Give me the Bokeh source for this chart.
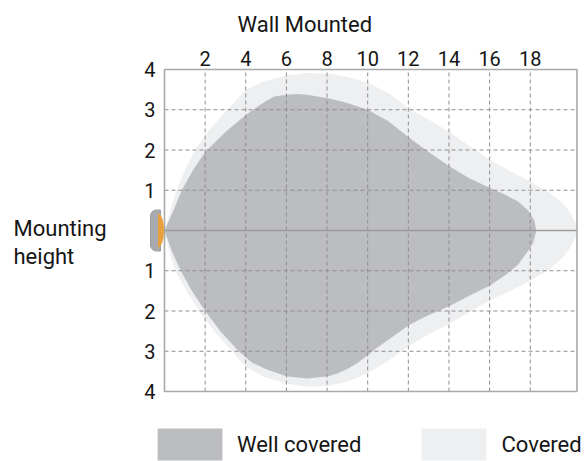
import numpy as np
from bokeh.plotting import figure
from bokeh.models import Range1d, FixedTicker, Legend, LegendItem
from bokeh.core.properties import value
from bokeh.embed import file_html
from bokeh.resources import INLINE

# ---------------- data ----------------
x_ticks = [2, 4, 6, 8, 10, 12, 14, 16, 18]
y_ticks = [-4, -3, -2, -1, 0, 1, 2, 3, 4]
y_tick_labels = ["4", "3", "2", "1", "", "1", "2", "3", "4"]
y_grid = [-3, -2, -1, 1, 2, 3]
X_MAX = 20.3          # right edge of the chart box
Y_MAX = 4             # top / bottom of the chart box

# "Covered" zone (outer, light)
outer_top_x = [0, 0.28, 0.6, 1.0, 1.5, 2.2, 3.1, 4.0, 5.0, 6.0, 7.0, 8.0, 9.0, 10.0,
               11.0, 12.0, 13.0, 14.0, 15.0, 16.0, 17.0, 18.0, 19.0, 19.6, 20.0, 20.25, 20.3]
outer_top_y = [0, 0.5, 1.0, 1.5, 2.0, 2.5, 3.0, 3.5, 3.72, 3.85, 3.91, 3.9, 3.82, 3.67,
               3.42, 3.05, 2.75, 2.46, 2.1, 1.76, 1.48, 1.22, 0.92, 0.68, 0.42, 0.15, 0]
outer_bot_x = [0, 0.22, 0.53, 1.08, 1.7, 2.45, 3.33, 4.0, 5.0, 6.0, 7.0, 8.0, 9.0, 10.0,
               11.0, 12.0, 13.0, 14.0, 15.0, 16.0, 17.0, 18.0, 19.0, 19.6, 20.0, 20.25, 20.3]
outer_bot_y = [0, -0.5, -1.0, -1.5, -2.0, -2.5, -3.0, -3.39, -3.65, -3.8, -3.88, -3.87, -3.76, -3.54,
               -3.24, -2.88, -2.58, -2.32, -2.03, -1.74, -1.5, -1.25, -0.95, -0.68, -0.4, -0.15, 0]

# "Well covered" zone (inner, dark)
inner_top_x = [0, 0.44, 0.85, 1.4, 2.0, 3.0, 4.0, 4.5, 5.0, 5.4, 6.0, 6.5, 7.0, 8.0, 9.0,
               10.0, 11.0, 12.0, 13.0, 14.0, 15.0, 16.0, 16.8, 17.4, 17.9, 18.2, 18.3]
inner_top_y = [0, 0.5, 1.0, 1.5, 1.95, 2.45, 2.87, 3.05, 3.22, 3.33, 3.37, 3.39, 3.37, 3.29, 3.17,
               3.0, 2.72, 2.32, 1.95, 1.6, 1.3, 1.06, 0.88, 0.72, 0.5, 0.25, 0]
inner_bot_x = [0, 0.35, 0.8, 1.35, 2.0, 2.75, 3.65, 4.3, 5.0, 6.0, 7.0, 8.0, 8.5, 9.0, 9.5, 10.0,
               10.5, 11.0, 12.0, 12.8, 14.0, 15.0, 16.0, 16.8, 17.4, 17.9, 18.15, 18.3]
inner_bot_y = [0, -0.5, -1.0, -1.5, -2.0, -2.5, -3.0, -3.28, -3.45, -3.62, -3.68, -3.63, -3.55, -3.44,
               -3.29, -3.1, -2.9, -2.72, -2.36, -2.15, -1.88, -1.62, -1.37, -1.1, -0.85, -0.5, -0.3, 0]

series_labels = ["Well covered", "Covered"]
colors = {"Well covered": "#bcbdc0", "Covered": "#eeeff1"}

FONT = "Roboto"
TEXT = "#151515"
GRID = "#8e8e8e"
BOX = "#a9a9a9"

# ---------------- figure ----------------
# the frame covers the whole canvas; the chart box (0..X_MAX, -4..4) sits inside it
PX_X = 20.32   # pixels per x unit
PX_Y = 40.25   # pixels per y unit
W, H = 586, 461
OX, OY = 164, 230            # canvas pixel of the box origin
x_lo, x_hi = -OX / PX_X, (W - OX) / PX_X
y_lo, y_hi = -(H - OY) / PX_Y, OY / PX_Y

p = figure(width=W, height=H, output_backend="svg", toolbar_location=None, title=None,
           x_range=Range1d(x_lo, x_hi), y_range=Range1d(y_lo, y_hi),
           x_axis_location="above",
           min_border_left=0, min_border_right=0, min_border_top=0, min_border_bottom=0)
p.background_fill_color = "white"
p.border_fill_color = "white"
p.outline_line_color = None
p.grid.visible = False

outer_x = outer_top_x + outer_bot_x[::-1]
outer_y = outer_top_y + outer_bot_y[::-1]
inner_x = inner_top_x + inner_bot_x[::-1]
inner_y = inner_top_y + inner_bot_y[::-1]

r_out = p.patch(outer_x, outer_y, fill_color=colors["Covered"], line_color=None)
r_in = p.patch(inner_x, inner_y, fill_color=colors["Well covered"], line_color=None)

# dashed grid inside the box
p.segment(x0=x_ticks, x1=x_ticks, y0=[-Y_MAX] * len(x_ticks), y1=[Y_MAX] * len(x_ticks),
          line_color=GRID, line_dash="4 3", line_width=1)
p.segment(x0=[0] * len(y_grid), x1=[X_MAX] * len(y_grid), y0=y_grid, y1=y_grid,
          line_color=GRID, line_dash="4 3", line_width=1)
# center line
p.segment(x0=[0], x1=[X_MAX], y0=[0], y1=[0], line_color="#9c9c9c", line_width=1.5)
# box
p.quad(left=[0], right=[X_MAX], bottom=[-Y_MAX], top=[Y_MAX], fill_color=None,
       line_color=BOX, line_width=1.6)

# axes (pinned to the box edges)
xa = p.xaxis[0]
xa.fixed_location = Y_MAX
xa.ticker = FixedTicker(ticks=x_ticks)
xa.axis_line_color = None
xa.major_tick_line_color = None
xa.minor_tick_line_color = None
xa.major_tick_out = 0
xa.major_tick_in = 0
xa.major_label_standoff = 4
xa.major_label_text_font = FONT
xa.major_label_text_font_size = "20px"
xa.major_label_text_color = TEXT

ya = p.yaxis[0]
ya.fixed_location = 0
ya.ticker = FixedTicker(ticks=y_ticks)
ya.major_label_overrides = {t: s for t, s in zip(y_ticks, y_tick_labels)}
ya.axis_line_color = None
ya.major_tick_line_color = None
ya.minor_tick_line_color = None
ya.major_tick_out = 0
ya.major_tick_in = 0
ya.major_label_standoff = 9
ya.major_label_text_font = FONT
ya.major_label_text_font_size = "20px"
ya.major_label_text_color = TEXT

# titles (texts placed in pixel offsets from the box origin)
title_txt = ["Wall Mounted", "Mounting", "height"]
title_px_x = [73, -151, -151]
title_px_y = [206.5, 2.5, -25.5]
p.text(x=[v / PX_X for v in title_px_x], y=[v / PX_Y for v in title_px_y], text=title_txt,
       text_font=value(FONT), text_font_size="22px", text_color=TEXT,
       text_baseline="middle", text_align="left")

# wall-mounted device icon, pixel offsets from the box origin -> data units
r = 6.0
a1 = np.linspace(np.pi / 2, np.pi, 8)
a2 = np.linspace(np.pi, 1.5 * np.pi, 8)
body_px_x = [-4.0] + list(-14 + r + r * np.cos(a1)) + list(-14 + r + r * np.cos(a2)) + [-4.0]
body_px_y = [20.5] + list(20.5 - r + r * np.sin(a1)) + list(-20.5 + r + r * np.sin(a2)) + [-20.5]
p.patch([v / PX_X for v in body_px_x], [v / PX_Y for v in body_px_y],
        fill_color="#a9aaad", line_color="#9d9ea1", line_width=1)
th = np.linspace(-np.pi / 2, np.pi / 2, 24)
p.patch(list((-6.5 + 6.0 * np.cos(th)) / PX_X), list(17 * np.sin(th) / PX_Y),
        fill_color="#e8a13c", line_color=None)

# legend (inside the frame, below the box)
legend = Legend(items=[LegendItem(label=series_labels[0], renderers=[r_in]),
                       LegendItem(label=series_labels[1], renderers=[r_out])],
                location=(149, -3), orientation="horizontal",
                glyph_width=81, glyph_height=40, label_standoff=7, spacing=52,
                padding=0, margin=0, border_line_color=None, background_fill_alpha=0,
                label_text_font=FONT, label_text_font_size="22px", label_text_color=TEXT)
p.add_layout(legend)

open("out.html", "w").write(file_html(p, INLINE))
